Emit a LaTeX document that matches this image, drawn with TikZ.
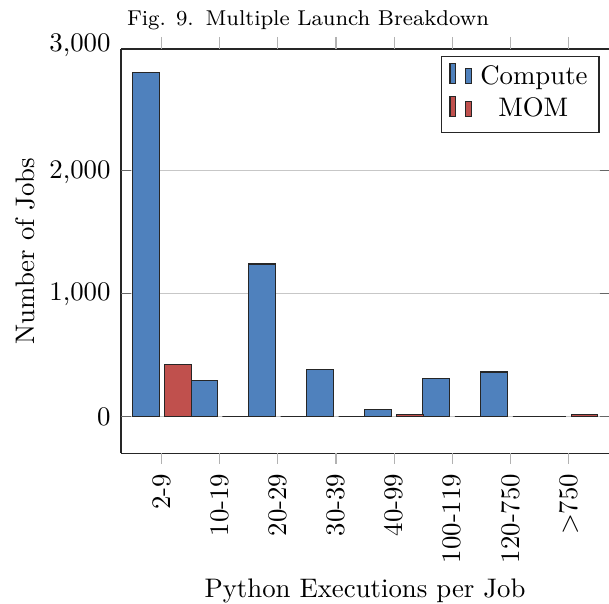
\documentclass[tikz,border=0pt]{standalone}
\definecolor{barblue}{HTML}{4F81BD}
\definecolor{barred}{HTML}{C0504D}
\begin{document}
\begin{tikzpicture}[x=0.373pt,y=-0.373pt,
  axisline/.style={draw=black!85,line width=0.45pt},
  gridline/.style={draw=black!22,line width=0.4pt},
  ytickmark/.style={draw=black!60,line width=0.4pt},
  xtickmark/.style={draw=black!30,line width=0.4pt},
  computebar/.style={fill=barblue,draw=black!85,line width=0.4pt},
  mombar/.style={fill=barred,draw=black!85,line width=0.4pt},
  lbl/.style={inner sep=0pt},
  xlbl/.style={inner sep=0pt,rotate=90,anchor=east,text height=6.5pt,text depth=0pt}]
\useasboundingbox (0,0) rectangle (609,604);

% horizontal grid lines at 0, 1000, 2000
\foreach \v in {0,1000,2000}
  \draw[gridline] (121,{416.3-\v*0.12281}) -- (609,{416.3-\v*0.12281});

% bars: Compute left of each tick, MOM right of it
\foreach \c [count=\i from 0] in {2800,293,1240,380,59,306,361,0}
  \draw[computebar] ({161.7+58.1*\i-29.35},416.3) rectangle ({161.7+58.1*\i-2.65},{416.3-\c*0.12281});
\foreach \m [count=\i from 0] in {423,0,0,0,15,0,0,15}
  \draw[mombar] ({161.7+58.1*\i+2.65},416.3) rectangle ({161.7+58.1*\i+29.35},{416.3-\m*0.12281});

% axis frame
\draw[axisline] (121,49) -- (121,453.3);
\draw[axisline] (121,49) -- (609,49);
\draw[axisline] (121,453.3) -- (609,453.3);

% y ticks (inside) and labels
\foreach \v in {0,1000,2000} {
  \draw[ytickmark] (121,{416.3-\v*0.12281}) -- (130.5,{416.3-\v*0.12281});
  \draw[ytickmark] (599.5,{416.3-\v*0.12281}) -- (609,{416.3-\v*0.12281});
}
\node[lbl,anchor=base east] (y3) at (111,51.7) {3,000};
\node[lbl,anchor=base east] (y2) at (111,178.3) {2,000};
\node[lbl,anchor=base east] (y1) at (111,300.7) {1,000};
\node[lbl,anchor=base east] (y0) at (111,425.5) {0};

% x ticks (outside, top and bottom) and labels
\foreach \t [count=\i from 0] in {2-9,10-19,20-29,30-39,40-99,100-119,120-750,$>$750} {
  \draw[xtickmark] ({161.7+58.1*\i},37) -- ({161.7+58.1*\i},49);
  \draw[xtickmark] ({161.7+58.1*\i},453.3) -- ({161.7+58.1*\i},463.5);
  \node[xlbl] (xl\i) at ({161.7+58.1*\i},473.3) {\t};
}

% axis labels and title
\node[lbl,rotate=90] (ylabel) at (25,251) {Number of Jobs};
\node[lbl,anchor=base] (xlabel) at (365,597) {Python Executions per Job};
\node[lbl,anchor=base] (title) at (308,26) {\footnotesize Fig. 9.\hspace{0.55em}Multiple Launch Breakdown};

% legend
\draw[draw=black!85,line width=0.45pt,fill=white] (441.7,56.7) rectangle (599,132.7);
\draw[computebar] (450,63.3) rectangle (455.7,83.3);
\draw[computebar] (465.7,68.3) rectangle (471.7,83.3);
\draw[mombar] (450,96.7) rectangle (455.7,116.7);
\draw[mombar] (465.7,101.7) rectangle (471.7,116.7);
\node[lbl,anchor=base] (lgc) at (534,84.3) {Compute};
\node[lbl,anchor=base] (lgm) at (533.3,116.7) {MOM};
\end{tikzpicture}
\end{document}
